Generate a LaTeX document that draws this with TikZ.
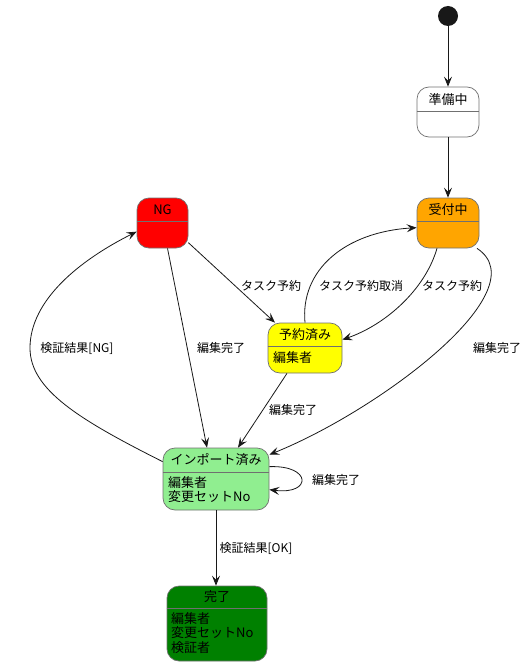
\documentclass[tikz,border=0pt]{standalone}
\usepackage{fontspec}
\setmainfont{Noto Sans CJK JP}
\usetikzlibrary{positioning,arrows.meta}
\definecolor{linecol}{HTML}{181818}
\definecolor{boxline}{HTML}{707070}
\definecolor{stOrange}{HTML}{FFA500}
\definecolor{stRed}{HTML}{FF0000}
\definecolor{stYellow}{HTML}{FFFF00}
\definecolor{stLightGreen}{HTML}{90EE90}
\definecolor{stGreen}{HTML}{008000}
\tikzset{
  flowarrow/.style={-{Stealth[length=10pt,width=8pt,inset=4pt]}, draw=linecol, line width=0.8pt},
  stbox/.style={draw=boxline, rounded corners=12pt, line width=0.7pt, inner sep=0pt},
  sttitle/.style={font=\fontsize{13}{15}\selectfont, inner sep=0pt},
  attrtext/.style={font=\fontsize{13}{14.5}\selectfont, align=left, inner sep=0pt, anchor=north west},
  sepline/.style={draw=boxline, line width=0.7pt},
  lbl/.style={font=\fontsize{12}{14}\selectfont, inner sep=0pt},
  initdot/.style={circle, fill=linecol, minimum size=20pt, inner sep=0pt}
}
\begin{document}
\begin{tikzpicture}[x=1pt, y=-1pt]
  \useasboundingbox (0,0) rectangle (530,666);
  % states
  \node[initdot] (init) at (448,16) {};
  \node[stbox, fill=white, minimum width=62pt, minimum height=50pt] (junbi) at (448,112) {};
  \node[sttitle] (junbiT) at (448,100) {準備中};
  \draw[sepline] ([yshift=-25pt]junbi.north west) -- ([yshift=-25pt]junbi.north east);
  \node[stbox, fill=stOrange, minimum width=62pt, minimum height=50pt] (uketsuke) at (448,223) {};
  \node[sttitle] (uketsukeT) at (448,210) {受付中};
  \draw[sepline] ([yshift=-24pt]uketsuke.north west) -- ([yshift=-24pt]uketsuke.north east);
  \node[stbox, fill=stRed, minimum width=51pt, minimum height=50pt] (ng) at (162.5,223) {};
  \node[sttitle] (ngT) at (162.5,210) {NG};
  \draw[sepline] ([yshift=-24pt]ng.north west) -- ([yshift=-24pt]ng.north east);
  \node[stbox, fill=stYellow, minimum width=74pt, minimum height=50pt] (yoyaku) at (305,348) {};
  \node[sttitle] (yoyakuT) at (305,335) {予約済み};
  \draw[sepline] ([yshift=-24pt]yoyaku.north west) -- ([yshift=-24pt]yoyaku.north east);
  \node[attrtext] (yoyakuA) at (273,351) {編集者};
  \node[stbox, fill=stLightGreen, minimum width=106pt, minimum height=62pt] (imp) at (216,479) {};
  \node[sttitle] (impT) at (216,460) {インポート済み};
  \draw[sepline] ([yshift=-25pt]imp.north west) -- ([yshift=-25pt]imp.north east);
  \node[attrtext] (impA) at (168,476) {編集者\\変更セットNo};
  \node[stbox, fill=stGreen, minimum width=100pt, minimum height=75pt] (kanryo) at (217,623.5) {};
  \node[sttitle] (kanryoT) at (217,597) {完了};
  \draw[sepline] ([yshift=-23pt]kanryo.north west) -- ([yshift=-23pt]kanryo.north east);
  \node[attrtext] (kanryoA) at (171,612) {編集者\\変更セットNo\\検証者};
  % transitions
  \draw[flowarrow] (init) -- (junbi);
  \draw[flowarrow] (junbi) -- (uketsuke);
  \draw[flowarrow] ([yshift=-45pt]ng.north east) -- ([xshift=-30pt]yoyaku.north);
  \draw[flowarrow] ([xshift=-11pt]uketsuke.south) .. controls (425,290) and (385,325) .. ([yshift=-17pt]yoyaku.north east);
  \draw[flowarrow] (yoyaku.north) .. controls (300,270) and (345,232) .. ([yshift=-30pt]uketsuke.north west);
  \draw[flowarrow] ([xshift=29pt]uketsuke.south) .. controls (540,290) and (380,410) .. ([yshift=-7pt]imp.north east);
  \draw[flowarrow] ([xshift=5pt]ng.south) -- ([xshift=-9pt]imp.north);
  \draw[flowarrow] ([xshift=-18pt]yoyaku.south) -- ([xshift=22pt]imp.north);
  \draw[flowarrow] ([yshift=-14pt]imp.north west) .. controls (80,420) and (30,390) .. (30,348)
    .. controls (30,300) and (80,260) .. ([yshift=-34pt]ng.north west);
  \draw[flowarrow] ([yshift=-19pt]imp.north east) .. controls (312,465) and (312,495) .. ([yshift=-42pt]imp.north east);
  \draw[flowarrow] (imp) -- (imp |- kanryo.north);
  % labels
  \node[lbl] (lblA) at (271,286) {タスク予約};
  \node[lbl] (lblB) at (361,286) {タスク予約取消};
  \node[lbl] (lblC) at (452,286) {タスク予約};
  \node[lbl] (lblD) at (497,348) {編集完了};
  \node[lbl] (lblE) at (221,348) {編集完了};
  \node[lbl] (lblF) at (77,348) {検証結果[NG]};
  \node[lbl] (lblG) at (293,410) {編集完了};
  \node[lbl] (lblH) at (336,480) {編集完了};
  \node[lbl] (lblI) at (256,548) {検証結果[OK]};
\end{tikzpicture}
\end{document}
